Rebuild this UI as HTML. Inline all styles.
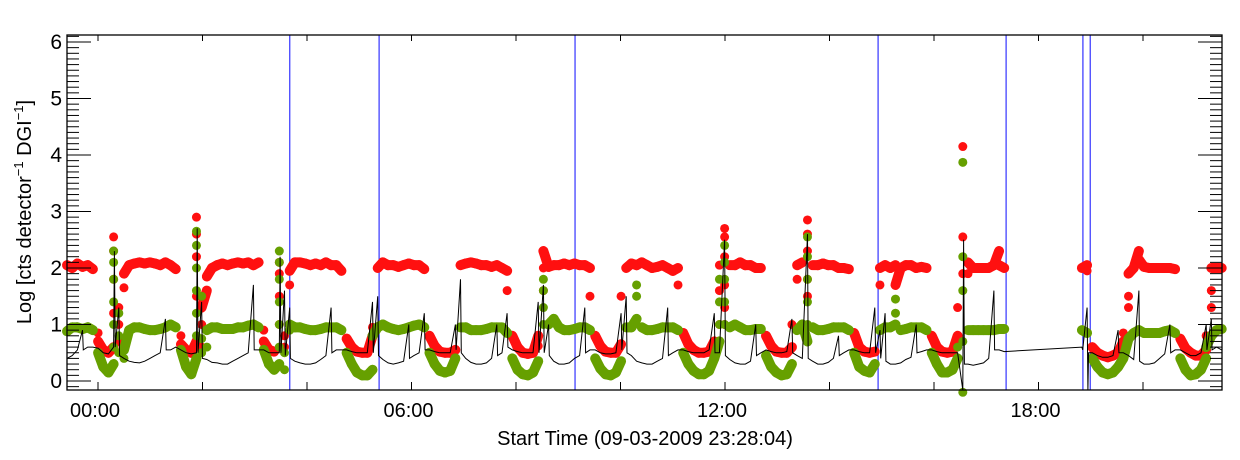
<!DOCTYPE html>
<html><head><meta charset="utf-8"><style>
body{margin:0;background:#fff;}
svg{display:block;font-family:"Liberation Sans",sans-serif;}
</style></head><body>
<svg id="chart" width="1240" height="460" viewBox="0 0 1240 460" xmlns="http://www.w3.org/2000/svg">
<rect x="0" y="0" width="1240" height="460" fill="#fff"/>
<g id="vlines"></g>
<g id="reddots"></g>
<g id="greendots"></g>
<g id="blackline"></g>
<g id="axes"></g>
<text x="645" y="445" font-size="20" text-anchor="middle">Start Time (09-03-2009 23:28:04)</text>
<text transform="translate(31,212) rotate(-90)" font-size="20" text-anchor="middle">Log [cts detector<tspan dy="-8" font-size="13">−1</tspan><tspan dy="8"> DGI</tspan><tspan dy="-8" font-size="13">−1</tspan><tspan dy="8">]</tspan></text>
</svg>
<script>
// data (hours from start; values are log counts)
const startHour = -0.593;
const stepHour = 0.0991;
const markerHours = [3.67, 5.38, 9.13, 14.93, 17.38, 18.85, 18.99];
const xTickLabels = ["00:00", "06:00", "12:00", "18:00"];
const xTickLabelHours = [0, 6, 12, 18];
const yTickLabels = ["0","1","2","3","4","5","6"];
const N = null;
const redVals = [
2.05,2.0,2.08,2.02,2.05,1.98,
[0.85,0.7],0.55,0.5,
[0.6,1.2,1.8,2.3,2.55],
[1.3,0.7,1.0],[1.65,1.9],
2.05,2.08,2.1,2.08,2.1,2.08,2.05,2.1,2.05,1.98,
[0.8,0.65],0.55,0.5,
[0.7,1.5,2.2,2.6,2.9],
[1.0,0.6,1.3],[1.6,1.85],
2.0,2.05,2.08,2.05,2.08,2.1,2.08,2.1,2.05,2.1,
[0.9,0.7],0.55,0.52,
[1.0,1.5,1.9,2.1],
[0.8,0.6],[1.7,1.95],
2.1,2.1,2.08,2.05,2.08,2.05,2.1,2.05,2.05,1.95,
0.75,0.6,0.52,0.5,0.5,[0.8,0.95],
2.0,2.1,2.05,2.05,2.02,2.05,2.08,2.05,2.05,1.98,
0.8,0.62,0.52,0.5,0.5,0.55,
2.05,2.08,2.1,2.08,2.05,2.05,2.02,2.05,2.0,[1.95,1.6],
0.8,0.6,0.5,0.48,0.5,[0.8,0.62],
[1.6,2.0,2.3],2.02,2.05,2.05,2.08,2.05,2.08,2.05,2.05,[2.0,1.5],
0.8,0.62,0.52,0.5,0.5,[0.65,1.5],
2.0,2.08,2.05,2.1,2.05,2.0,2.02,2.05,2.0,1.95,[2.0,1.7],
0.85,0.65,0.55,0.5,0.5,0.52,[0.7,0.6],
[1.0,1.6,2.05],[1.0,1.3,1.7,2.2,2.55,2.7],2.05,2.05,2.1,2.05,2.05,2.0,2.0,
0.8,0.62,0.52,0.5,0.5,[0.6,1.0],
[1.8,2.05],2.1,[1.5,1.8,2.3,2.6,2.85],2.05,2.05,2.08,2.05,2.05,2.0,2.0,1.98,
0.85,0.6,0.52,0.5,0.52,
[1.7,2.0],2.05,2.0,[2.05,1.7],2.0,2.05,2.05,2.0,2.02,2.0,
0.8,0.6,0.52,0.5,0.52,[0.8,1.3],
[1.9,2.55,4.15],
[1.9,2.1],2.0,2.0,2.0,2.0,2.05,[2.3,2.05],2.0,
N,N,N,N,N,N,N,N,N,N,N,N,N,N,
2.0,[2.05,1.95],
0.6,0.5,0.45,0.42,0.45,0.5,[0.7,0.85],
[1.3,1.5,1.9],2.0,[2.3,2.15],2.02,2.0,2.0,2.0,2.0,2.0,1.98,
0.75,0.58,0.5,0.45,0.45,[0.55,0.8],
[1.3,1.6,2.0],2.0,2.0
];
const greenVals = [
0.88,0.95,0.95,0.92,0.95,0.9,
0.5,0.25,0.15,
[0.3,0.6,1.0,1.4,1.8,2.1,2.3],
[0.5,0.8,1.2],[0.4,0.55],
0.9,0.95,0.95,0.92,0.9,0.9,0.92,0.95,1.0,0.95,
0.55,0.25,0.12,
[0.4,0.8,1.2,1.6,2.0,2.4,2.65],
[0.5,0.75,1.5],[0.6,0.9],
0.95,0.95,0.92,0.92,0.92,0.95,0.95,0.98,1.0,0.95,
0.55,0.3,0.2,
[0.3,0.6,1.0,1.4,1.8,2.1,2.3],
[0.2,0.5],[0.9,1.0],
0.95,0.95,0.92,0.9,0.9,0.92,0.95,0.95,0.95,0.9,
0.5,0.3,0.15,0.1,0.1,[0.2,0.8],
0.95,1.0,0.95,0.92,0.9,0.92,0.95,0.98,1.0,0.95,
0.5,0.3,0.18,0.15,0.18,0.4,
0.95,0.95,0.9,0.9,0.9,0.92,0.95,0.95,0.95,0.85,
0.4,0.2,0.12,0.1,0.15,0.35,
[1.0,1.3,1.6,1.8],1.0,1.1,0.95,0.9,0.9,0.92,0.95,0.95,0.9,
0.4,0.22,0.12,0.1,0.15,0.35,
0.95,0.95,[1.1,1.5,1.7],0.95,0.9,0.9,0.92,0.95,0.95,0.95,0.9,
0.5,0.3,0.18,0.12,0.12,0.18,0.4,
[0.7,1.0,1.4,1.8],[1.0,1.4,1.8,2.1,2.4],0.95,1.0,0.95,0.9,0.9,0.92,0.92,
0.45,0.25,0.15,0.1,0.12,0.3,
0.9,1.0,[0.7,1.0,1.4,1.8,2.2,2.55],0.95,0.9,0.9,0.92,0.95,0.95,0.95,0.9,
0.5,0.25,0.18,0.15,0.3,
0.9,0.95,0.95,[1.0,1.2,1.45],0.9,0.92,0.95,0.95,0.95,0.9,
0.5,0.3,0.15,0.15,0.2,[0.4,0.6],
[-0.2,0.7,1.6,2.2,3.87],
0.9,0.9,0.9,0.9,0.9,0.9,0.92,0.92,
N,N,N,N,N,N,N,N,N,N,N,N,N,N,
0.9,0.85,
0.4,0.25,0.15,0.12,0.15,0.25,0.4,
0.75,0.85,0.9,0.85,0.85,0.85,0.85,0.88,0.9,0.85,
0.4,0.2,0.1,0.12,0.2,[0.4,0.6],
0.8,0.9,0.92
];
const blackVals = [
0.4,0.45,0.55,[0.9,0.55],0.6,0.6,
0.58,0.5,0.48,
[0.6,2.3,0.6],
[1.3,0.45],0.4,
0.35,0.33,0.32,0.35,0.4,0.45,0.5,[1.1,0.55],0.55,0.6,
0.55,0.5,0.48,
[0.5,2.7,0.5],
[1.4,0.4],0.38,
0.33,0.32,0.3,0.3,0.35,0.4,0.45,0.5,[1.7,0.55],0.55,
0.55,0.5,0.5,
[0.5,2.2,0.5],
[1.6,0.45],[1.3,0.4],
0.35,0.32,0.3,0.3,0.32,0.38,0.45,[1.3,0.5],0.55,0.55,
0.55,0.52,0.5,0.5,0.5,[1.4,0.5],
[1.5,0.45],0.38,0.32,0.3,0.32,0.35,[1.0,0.4],0.45,0.5,[1.2,0.55],
0.55,0.52,0.5,0.5,0.5,[1.0,0.55],
[1.8,0.5],0.4,0.33,0.3,0.3,0.32,0.4,[1.0,0.45],0.5,[1.2,0.6],
0.55,0.52,0.5,0.5,0.5,[1.4,0.5],
[1.7,0.5],[1.0,0.45],0.35,0.3,0.3,0.32,0.4,0.45,[1.3,0.5],0.55,
0.55,0.5,0.48,0.48,0.5,[1.2,0.55],
[1.5,0.5],0.45,0.35,0.32,0.3,0.3,0.35,0.4,[1.3,0.45],0.5,0.55,
0.55,0.52,0.5,0.5,0.5,0.55,[1.2,0.5],
0.5,[2.5,0.45],0.38,0.32,0.3,0.3,0.35,[1.0,0.45],0.5,
0.55,0.52,0.5,0.5,0.52,[1.1,0.5],
0.45,0.4,[2.6,0.4],0.35,0.3,0.3,0.33,0.4,[0.8,0.45],0.5,0.55,
0.55,0.52,0.5,0.5,[1.3,0.5],
[0.9,0.4],[1.2,0.35],0.3,0.3,0.32,0.38,0.42,[1.0,0.5],0.52,0.55,
0.55,0.52,0.5,0.5,0.5,0.5,
[-0.2,2.5,0.3],
0.3,0.28,0.3,0.32,0.4,[1.6,0.55],0.55,0.52,
N,N,N,N,N,N,N,N,N,N,N,N,N,N,
[0.6,0.55],[1.3,-0.2,0.5],
0.5,0.45,0.42,0.42,0.45,[0.9,0.5],0.5,
0.45,0.38,[1.6,0.35],0.3,0.3,0.32,0.4,0.48,[1.0,0.5],0.55,
0.55,0.5,0.45,0.45,0.5,[1.0,0.55],
[1.1,0.55],0.6,0.55
];

const L=67,R=1222,T=35,B=390;
const X = h => 98 + h*52.25;
const Y = v => 381 - v*56.5;
const NS="http://www.w3.org/2000/svg";
function mk(tag,attrs,parent){const e=document.createElementNS(NS,tag);for(const k in attrs)e.setAttribute(k,attrs[k]);parent.appendChild(e);return e;}
const grp = id => document.getElementById(id);

markerHours.forEach(h=>{
  const l=mk('line',{x1:X(h),x2:X(h),y1:T,y2:B,stroke:'#3333ff','stroke-width':1.2},grp('vlines'));
  
  
});

function dots(vals,color,gid,name){
  const g=grp(gid);
  for(let i=0;i<vals.length-1;i++){
    const a=vals[i], b=vals[i+1];
    if(a===null||b===null)continue;
    const va=Array.isArray(a)?a[a.length-1]:a;
    const vb=Array.isArray(b)?b[0]:b;
    if(Math.abs(va-vb)>0.35)continue;
    const h=startHour+i*stepHour;
    const s=mk('line',{x1:X(h),y1:Y(va),x2:X(h+stepHour),y2:Y(vb),stroke:color,'stroke-width':10,'stroke-linecap':'round'},g);
    
    
  }
  vals.forEach((v,i)=>{
    if(v===null)return;
    const h=startHour+i*stepHour;
    (Array.isArray(v)?v:[v]).forEach(val=>{
      const c=mk('circle',{cx:X(h),cy:Y(val),r:4.5,fill:color},g);
      
      
    });
  });
}
dots(redVals,'#ff1010','reddots','red-point');
dots(greenVals,'#66a000','greendots','green-point');

let pts=[];
blackVals.forEach((v,i)=>{
  if(v===null)return;
  const h=startHour+i*stepHour;
  const arr=Array.isArray(v)?v:[v];
  arr.forEach((val,k)=>{pts.push(X(h+k*stepHour*0.15).toFixed(1)+','+Y(Math.max(val,-0.16)).toFixed(1));});
});
const pl=mk('polyline',{points:pts.join(' '),fill:'none',stroke:'#000','stroke-width':1},grp('blackline'));



const ax=grp('axes');
mk('rect',{x:L,y:T,width:R-L,height:B-T,fill:'none',stroke:'#000','stroke-width':1.3},ax);
for(let k=-1;k<=61;k++){
  const v=k/10; const y=Y(v);
  if(y<T||y>B)continue;
  const len=(k%10===0)?24:12;
  mk('line',{x1:L,x2:L+len,y1:y,y2:y,stroke:'#000','stroke-width':1},ax);
  mk('line',{x1:R-len,x2:R,y1:y,y2:y,stroke:'#000','stroke-width':1},ax);
}
yTickLabels.forEach((s,i)=>{
  const t=mk('text',{x:62,y:Y(i)+7,'font-size':21,'text-anchor':'end'},ax);
  t.textContent=s;
  
  
});
for(let h=0;h<=21;h+=2){
  mk('line',{x1:X(h),x2:X(h),y1:B,y2:B-8,stroke:'#000','stroke-width':1},ax);
  mk('line',{x1:X(h),x2:X(h),y1:T,y2:T+6,stroke:'#000','stroke-width':1},ax);
}
xTickLabels.forEach((s,i)=>{
  const t=mk('text',{x:X(xTickLabelHours[i])-3,y:417,'font-size':20,'text-anchor':'middle'},ax);
  t.textContent=s;
  
  
});
</script>
</body></html>
